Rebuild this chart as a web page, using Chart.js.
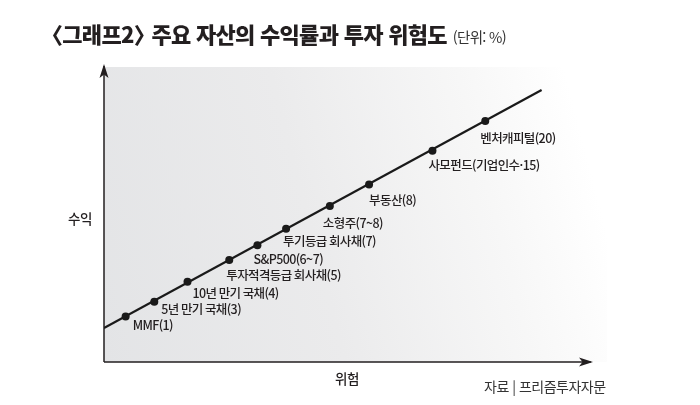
<!DOCTYPE html>
<html lang="ko">
<head>
<meta charset="utf-8">
<script src="https://cdn.jsdelivr.net/npm/chart.js@4"></script>
<style>
  body { margin: 0; background: #fff; }
  #wrap { position: relative; width: 700px; height: 405px; font-family: "Noto Sans CJK KR", "Noto Sans", sans-serif; color: #231f20; }
  #title { position: absolute; left: 51px; top: 18px; font-size: 22px; font-weight: 900; letter-spacing: -0.7px; white-space: nowrap; line-height: 30px; }
  #title .bl { margin-left: -10px; }
  #title .br { margin-right: -9px; }
  #title small { font-size: 14.5px; font-weight: 400; letter-spacing: -0.7px; color: #333; margin-left: 6px; }
  .axis-name { position: absolute; font-size: 13.5px; font-weight: 500; letter-spacing: -0.5px; white-space: nowrap; line-height: 16px; }
  #source { position: absolute; left: 484px; top: 377px; font-size: 14px; letter-spacing: -0.5px; color: #333; white-space: nowrap; line-height: 18px; }
  canvas { position: absolute; left: 0; top: 0; }
</style>
</head>
<body>
<div id="wrap">
  <canvas id="riskChart" width="700" height="405"></canvas>
  <div id="title"><span class="bl">〈</span>그래프2<span class="br">〉</span> 주요 자산의 수익률과 투자 위험도<small>(단위: %)</small></div>
  <div class="axis-name" style="left:68px; top:210px;">수익</div>
  <div class="axis-name" style="left:335px; top:370px;">위험</div>
  <div id="source">자료 | 프리즘투자자문</div>
</div>
<script>
// 자산별 위험(x) / 수익(y) 위치 - 그림에서 읽은 값 (축 0~100 기준)
const assetNames = ['MMF(1)', '5년 만기 국채(3)', '10년 만기 국채(4)', '투자적격등급 회사채(5)', 'S&P500(6~7)',
    '투기등급 회사채(7)', '소형주(7~8)', '부동산(8)', '사모펀드(기업인수·15)', '벤처캐피털(20)'];
const riskValues = [4.3, 10.0, 16.6, 24.9, 30.5, 36.2, 44.9, 52.7, 65.3, 75.8];
const returnValues = [15.4, 20.4, 27.2, 34.6, 39.6, 45.2, 52.9, 60.2, 71.6, 81.7];
// 추세선 양 끝
const trendRisk = [0, 87.0];
const trendReturn = [11.5, 92.2];

// 라벨 위치 보정(px)
const labelOffsets = [[7, 9], [7, 7], [5, 11], [-3, 15], [-4, 14], [-3, 13], [-7, 17], [0, 16], [-4, 14], [-5, 17]];

function drawArrow(ctx, x, y, dir) {
    // dir: 'up' or 'right'
    ctx.save();
    ctx.translate(x, y);
    if (dir === 'up') ctx.rotate(-Math.PI / 2);
    ctx.beginPath();
    ctx.moveTo(0, 0);
    ctx.lineTo(-14, -4.5);
    ctx.lineTo(-10.5, 0);
    ctx.lineTo(-14, 4.5);
    ctx.closePath();
    ctx.fillStyle = '#231f20';
    ctx.fill();
    ctx.restore();
}

const backdropPlugin = {
    id: 'backdrop',
    beforeDatasetsDraw(chart) {
        const { ctx, chartArea: a } = chart;
        const g = ctx.createLinearGradient(a.left, a.bottom, a.right, a.bottom - 130);
        g.addColorStop(0, '#e3e4e6');
        g.addColorStop(0.45, '#ebebec');
        g.addColorStop(0.8, '#f7f7f7');
        g.addColorStop(1, '#ffffff');
        ctx.save();
        ctx.fillStyle = g;
        ctx.fillRect(a.left, a.top, a.right - a.left, a.bottom - a.top);
        // 축
        ctx.strokeStyle = '#231f20';
        ctx.lineWidth = 1.5;
        ctx.beginPath();
        ctx.moveTo(a.left, a.bottom);
        ctx.lineTo(a.left, a.top - 1);
        ctx.moveTo(a.left, a.bottom);
        ctx.lineTo(a.right - 16, a.bottom);
        ctx.stroke();
        drawArrow(ctx, a.left, a.top - 3, 'up');
        drawArrow(ctx, a.right - 14, a.bottom, 'right');
        ctx.restore();
    },
    afterDatasetsDraw(chart) {
        const { ctx, scales } = chart;
        ctx.save();
        ctx.font = '500 12.5px "Noto Sans CJK KR", sans-serif';
        ctx.letterSpacing = '-0.6px';
        ctx.fillStyle = '#231f20';
        ctx.textBaseline = 'middle';
        ctx.textAlign = 'left';
        assetNames.forEach((name, i) => {
            const px = scales.x.getPixelForValue(riskValues[i]);
            const py = scales.y.getPixelForValue(returnValues[i]);
            ctx.fillText(name, px + labelOffsets[i][0], py + labelOffsets[i][1]);
        });
        ctx.restore();
    }
};

const ctx = document.getElementById('riskChart').getContext('2d');
new Chart(ctx, {
    type: 'scatter',
    data: {
        datasets: [
            {
                label: '추세',
                data: trendRisk.map((x, i) => ({ x: x, y: trendReturn[i] })),
                showLine: true,
                borderColor: '#1a1a1a',
                borderWidth: 2.2,
                pointRadius: 0,
                order: 2
            },
            {
                label: '자산',
                data: riskValues.map((x, i) => ({ x: x, y: returnValues[i] })),
                showLine: false,
                pointRadius: 4,
                pointBackgroundColor: '#1a1a1a',
                pointBorderColor: '#1a1a1a',
                pointBorderWidth: 0,
                order: 1
            }
        ]
    },
    options: {
        responsive: false,
        animation: false,
        layout: { padding: { left: 104, right: 93, top: 67, bottom: 43 } },
        plugins: { legend: { display: false }, tooltip: { enabled: false }, title: { display: false } },
        scales: {
            x: { type: 'linear', min: 0, max: 100, display: false },
            y: { type: 'linear', min: 0, max: 100, display: false }
        }
    },
    plugins: [backdropPlugin]
});
</script>
</body>
</html>
